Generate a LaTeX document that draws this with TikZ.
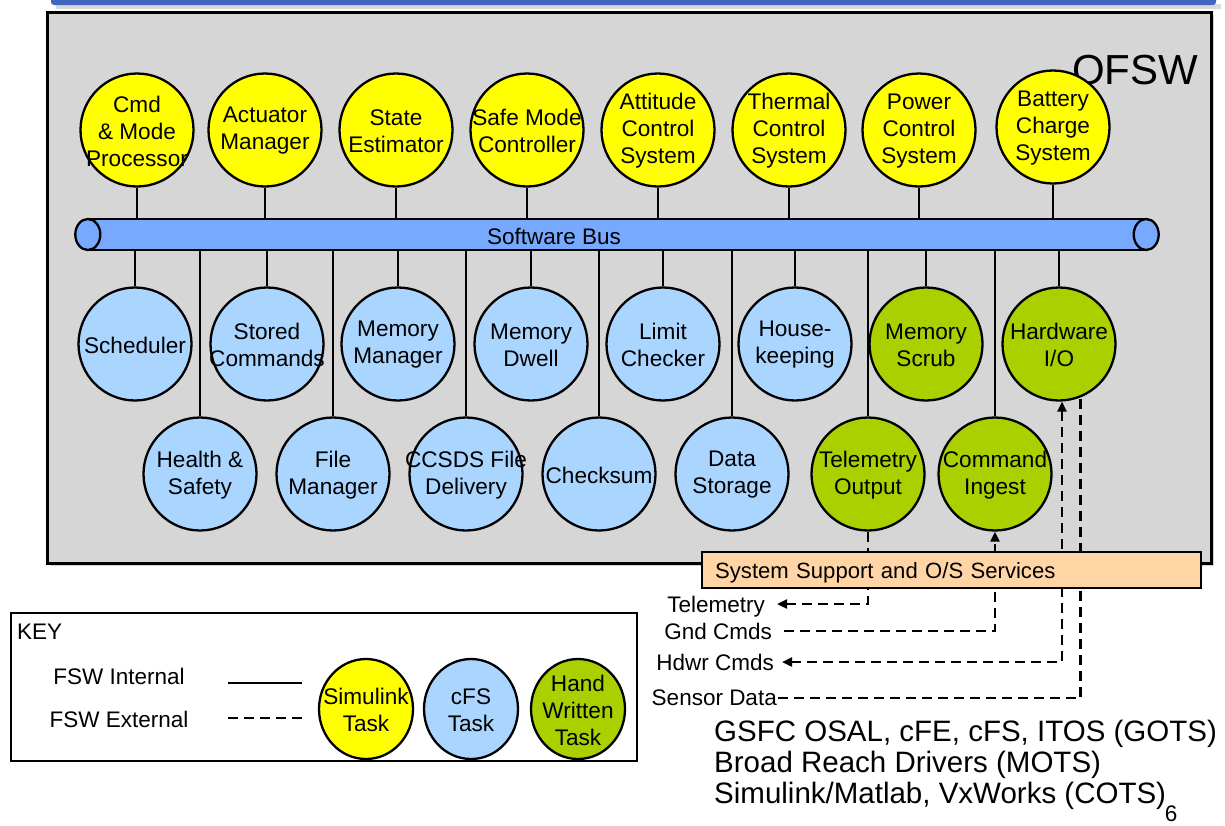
\documentclass[tikz,border=0pt]{standalone}
\usepackage{fontspec}
\setmainfont{Liberation Sans}
\usetikzlibrary{arrows.meta,shapes.geometric,shadows}
\definecolor{simyel}{HTML}{FFFF00}
\definecolor{cfsblue}{HTML}{A9D5FF}
\definecolor{hwgreen}{HTML}{AAD000}
\definecolor{busblue}{HTML}{77AAFF}
\definecolor{boxgray}{HTML}{D6D6D6}
\definecolor{sysorange}{HTML}{FFD5A6}
\definecolor{barblue}{HTML}{4266C0}
\tikzset{
  txt/.style={font=\fontsize{22.6}{27}\selectfont, align=center, inner sep=0pt, yshift=-1pt},
  task/.style={circle, draw, line width=2.3pt, minimum size=113pt, inner sep=0pt},
  ylw/.style={task, fill=simyel},
  cfs/.style={task, fill=cfsblue},
  hwt/.style={task, fill=hwgreen},
  keyell/.style={ellipse, draw, line width=2.3pt, minimum width=94pt, minimum height=100pt, inner sep=0pt},
  conn/.style={line width=2.3pt},
  ext/.style={line width=2.3pt, dash pattern=on 10pt off 6pt},
  tip/.style={-{Triangle[length=10pt,width=9pt]}},
  lbl/.style={font=\fontsize{22.5}{26}\selectfont, inner sep=0pt, text depth=0pt},
}
\begin{document}
\begin{tikzpicture}[x=1pt,y=-1pt]
\useasboundingbox (0,0) rectangle (1225,825);

% title bar
\fill[black!15] (56,4) rectangle (1221,9);
\fill[barblue, rounded corners=3pt] (51,-6) rectangle (1216,5);

% OFSW frame
\node[draw, fill=boxgray, line width=2.6pt, minimum width=1164pt, minimum height=551pt,
      anchor=north west, inner sep=0pt,
      drop shadow={opacity=0.35, shadow xshift=3pt, shadow yshift=-3pt}] (frame) at (46,11) {};
\node[font=\fontsize{42}{42}\selectfont, inner sep=0pt] (ofswlbl) at (1135,70) {OFSW};

% bus
\node[rectangle, fill=busblue, minimum width=1058pt, minimum height=31pt, inner sep=0pt] (bus) at (617,234.5) {};
\draw[conn] (bus.north west) -- (bus.north east);
\draw[conn] (bus.south west) -- (bus.south east);
\draw[conn, fill=busblue] (bus.west) ellipse [x radius=12.5pt, y radius=15.5pt];
\draw[conn, fill=busblue] (bus.east) ellipse [x radius=12.5pt, y radius=15.5pt];
\node[lbl] (buslbl) at (554,236) {Software Bus};

% top row (Simulink)
\node[ylw, label={[txt]center:Cmd\\\& Mode\\Processor}] (cmd) at (137,130) {};
\node[ylw, label={[txt]center:Actuator\\Manager}] (act) at (265,130) {};
\node[ylw, label={[txt]center:State\\Estimator}] (est) at (396,130) {};
\node[ylw, label={[txt]center:Safe Mode\\Controller}] (safe) at (527,130) {};
\node[ylw, label={[txt]center:Attitude\\Control\\System}] (att) at (658,130) {};
\node[ylw, label={[txt]center:Thermal\\Control\\System}] (therm) at (789,130) {};
\node[ylw, label={[txt]center:Power\\Control\\System}] (pwr) at (919,130) {};
\node[ylw, label={[txt]center:Battery\\Charge\\System}] (batt) at (1053,127) {};

% second row
\node[cfs, label={[txt]center:Scheduler}] (sched) at (135,344) {};
\node[cfs, label={[txt]center:Stored\\Commands}] (stored) at (267,344) {};
\node[cfs, label={[txt]center:Memory\\Manager}] (memmgr) at (398,344) {};
\node[cfs, label={[txt]center:Memory\\Dwell}] (dwell) at (531,344) {};
\node[cfs, label={[txt]center:Limit\\Checker}] (limit) at (663,344) {};
\node[cfs, label={[txt]center:House-\\keeping}] (hk) at (795,344) {};
\node[hwt, label={[txt]center:Memory\\Scrub}] (scrub) at (926,344) {};
\node[hwt, label={[txt]center:Hardware\\I/O}] (hwio) at (1059,344) {};

% third row
\node[cfs, label={[txt]center:Health \&\\Safety}] (hs) at (200,474) {};
\node[cfs, label={[txt]center:File\\Manager}] (fm) at (333,474) {};
\node[cfs, label={[txt]center:CCSDS File\\Delivery}] (ccsds) at (466,474) {};
\node[cfs, label={[txt]center:Checksum}] (cks) at (599,474) {};
\node[cfs, label={[txt]center:Data\\Storage}] (ds) at (732,474) {};
\node[hwt, label={[txt]center:Telemetry\\Output}] (tlm) at (868,474) {};
\node[hwt, label={[txt]center:Command\\Ingest}] (ci) at (995,474) {};

% internal connectors
\foreach \n in {cmd,act,est,safe,att,therm,pwr,batt}
  \draw[conn] (\n.south) -- (\n.south |- bus.north);
\foreach \n in {sched,stored,memmgr,dwell,limit,hk,scrub,hwio,hs,fm,ccsds,cks,ds,tlm,ci}
  \draw[conn] (bus.south -| \n.north) -- (\n.north);

% external labels
\node[lbl, anchor=east] (ltel) at (765,604) {Telemetry};
\node[lbl, anchor=east] (lgnd) at (772,631) {Gnd Cmds};
\node[lbl, anchor=east] (lhdwr) at (774,662) {Hdwr Cmds};
\node[lbl, anchor=east] (lsens) at (777,698) {Sensor Data};

% external connectors
\draw[ext, tip] (tlm.south) |- ([xshift=12pt]ltel.east);
\draw[ext, tip] ([xshift=12pt]lgnd.east) -| (ci.south);
\draw[ext, {Triangle[length=10pt,width=9pt]}-{Triangle[length=10pt,width=9pt]}] (hwio.-87) |- ([xshift=8pt]lhdwr.east);
\draw[ext] ([xshift=1pt]lsens.east) -| (hwio.-68);

% system support box
\node[draw, line width=2.3pt, fill=sysorange, anchor=west, minimum height=36pt,
      text width=473pt, inner xsep=13pt, inner ysep=0pt, align=left, text depth=0pt,
      font=\fontsize{22.1}{24}\selectfont] (sys) at (701,570) {System Support and O/S Services};

% key
\node[draw, line width=2.3pt, fill=white, anchor=north west, minimum width=626pt,
      minimum height=148pt, inner sep=0pt] (keybox) at (10,612) {};
\node[lbl, anchor=west] (keylbl) at (17,632) {KEY};
\node[lbl] (kint) at (119,676) {FSW Internal};
\node[lbl] (kext) at (119,719) {FSW External};
\coordinate (ki1) at (228,683);
\coordinate (ki2) at (302,683);
\coordinate (ke1) at (228,718);
\coordinate (ke2) at (302,718);
\draw[conn] (ki1) -- (ki2);
\draw[ext] (ke1) -- (ke2);
\node[keyell, fill=simyel, label={[txt]center:Simulink\\Task}] (ksim) at (366,709) {};
\node[keyell, fill=cfsblue, label={[txt]center:cFS\\Task}] (kcfs) at (471,709) {};
\node[keyell, fill=hwgreen, label={[txt]center:Hand\\Written\\Task}] (khw) at (578,709) {};

% bottom text
\node[anchor=west, inner sep=0pt, text depth=0pt, font=\fontsize{29.5}{31}\selectfont] (b1) at (714,731) {GSFC OSAL, cFE, cFS, ITOS (GOTS)};
\node[anchor=west, inner sep=0pt, text depth=0pt, font=\fontsize{29.5}{31}\selectfont] (b2) at (714,762) {Broad Reach Drivers (MOTS)};
\node[anchor=west, inner sep=0pt, text depth=0pt, font=\fontsize{29.5}{31}\selectfont] (b3) at (714,793) {Simulink/Matlab, VxWorks (COTS)};
\node[lbl] (pg) at (1171,814) {6};
\end{tikzpicture}
\end{document}
